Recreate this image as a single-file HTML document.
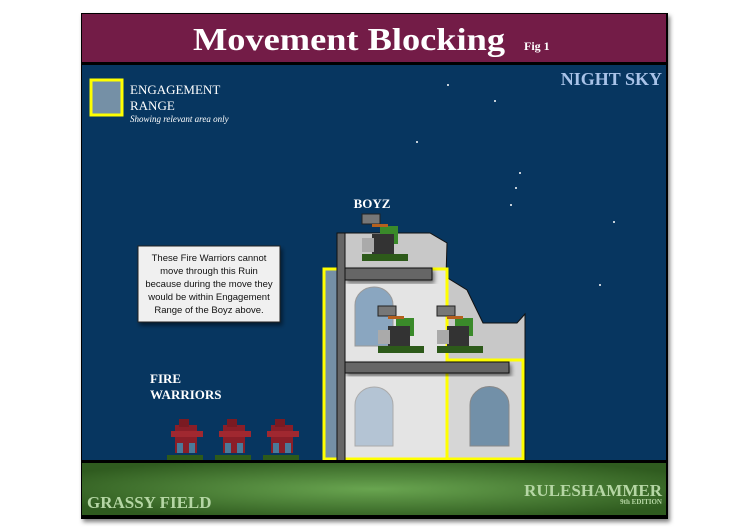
<!DOCTYPE html>
<html><head><style>
html,body{margin:0;padding:0;background:#fff;}
svg{display:block;}
text{font-family:"Liberation Serif",serif;}
</style></head><body>
<svg width="748" height="530" viewBox="0 0 748 530" xmlns="http://www.w3.org/2000/svg">
<defs>
<radialGradient id="g" cx="0.5" cy="0.5" r="0.6">
<stop offset="0" stop-color="#69a550"/><stop offset="1" stop-color="#2f5b1f"/>
</radialGradient>
<filter id="sh" x="-20%" y="-20%" width="150%" height="150%"><feDropShadow dx="2" dy="3" stdDeviation="2" flood-opacity="0.5"/></filter>
<g id="ork">
<rect x="0" y="40" width="46" height="7" fill="#2d5a1a"/>
<rect x="18" y="12" width="18" height="18" fill="#3a8a2a"/>
<rect x="10" y="20" width="22" height="20" fill="#333"/>
<rect x="0" y="0" width="18" height="10" fill="#777" stroke="#222"/>
<rect x="0" y="24" width="12" height="14" fill="#aaa"/>
<rect x="10" y="10" width="16" height="3" fill="#b5601e"/>
</g>
<g id="fw">
<rect x="0" y="38" width="36" height="5" fill="#2d5a1a"/>
<rect x="8" y="8" width="22" height="28" fill="#8a1e28"/>
<rect x="4" y="14" width="32" height="6" fill="#a02830"/>
<rect x="12" y="2" width="10" height="8" fill="#7a1a22"/>
<rect x="10" y="26" width="6" height="10" fill="#4a7a9a"/>
<rect x="22" y="26" width="6" height="10" fill="#4a7a9a"/>
</g>
</defs>
<rect x="81" y="13" width="587" height="506" fill="#000" filter="url(#sh)"/>
<rect x="82" y="14" width="584" height="48" fill="#731c47"/>
<rect x="82" y="65" width="584" height="395" fill="#073660"/>
<rect x="82" y="463" width="584" height="52" fill="url(#g)"/>
<text x="193" y="50" font-size="32" font-weight="bold" fill="#fff" textLength="312" lengthAdjust="spacingAndGlyphs">Movement Blocking</text>
<text x="524" y="50" font-size="12" font-weight="bold" fill="#fff">Fig 1</text>
<text x="662" y="85" font-size="18" font-weight="bold" fill="#a9c3e8" text-anchor="end">NIGHT SKY</text>
<rect x="91" y="80" width="31" height="35" fill="#7590a6" stroke="#ffff00" stroke-width="3"/>
<text x="130" y="94" font-size="13" fill="#fff">ENGAGEMENT</text>
<text x="130" y="110" font-size="13" fill="#fff">RANGE</text>
<text x="130" y="122" font-size="9" font-style="italic" fill="#fff">Showing relevant area only</text>
<g fill="#fff">
<circle cx="448" cy="85" r="1"/><circle cx="495" cy="101" r="1"/><circle cx="417" cy="142" r="1"/>
<circle cx="520" cy="173" r="1"/><circle cx="516" cy="188" r="1"/><circle cx="511" cy="205" r="1"/>
<circle cx="614" cy="222" r="1"/><circle cx="600" cy="285" r="1"/>
</g>
<text x="372" y="208" font-size="13" font-weight="bold" fill="#fff" text-anchor="middle">BOYZ</text>
<text x="150" y="383" font-size="13" font-weight="bold" fill="#fff">FIRE</text>
<text x="150" y="399" font-size="13" font-weight="bold" fill="#fff">WARRIORS</text>
<rect x="138" y="246" width="142" height="76" fill="#f0f0f0" stroke="#222" filter="url(#sh)"/>
<g font-size="9.5" fill="#111" text-anchor="middle">
<text x="209" y="261" style="font-family:'Liberation Sans',sans-serif">These Fire Warriors cannot</text>
<text x="209" y="274" style="font-family:'Liberation Sans',sans-serif">move through this Ruin</text>
<text x="209" y="287" style="font-family:'Liberation Sans',sans-serif">because during the move they</text>
<text x="209" y="300" style="font-family:'Liberation Sans',sans-serif">would be within Engagement</text>
<text x="209" y="313" style="font-family:'Liberation Sans',sans-serif">Range of the Boyz above.</text>
</g>
<polygon points="345,233 430,233 447,243 446,277 467,290 483,323 517,323 525,314 525,460 345,460" fill="#c8c8c8" stroke="#111"/>
<rect x="323" y="268" width="124" height="192" fill="#e4e4e4"/>
<rect x="447" y="360" width="76" height="100" fill="#d6d6d6"/>
<rect x="323" y="268" width="14" height="192" fill="#7590a6"/>
<path d="M355,346 V305 A19,18 0 0 1 393,305 V346 Z" fill="#8aa6c0" stroke="#999"/>
<path d="M355,446 V405 A19,18 0 0 1 393,405 V446 Z" fill="#b4c4d4" stroke="#aaa"/>
<path d="M470,446 V405 A19,18 0 0 1 509,405 V446 Z" fill="#7290a8" stroke="#888"/>
<rect x="324" y="269" width="123" height="190" fill="none" stroke="#ffff00" stroke-width="3"/>
<rect x="447" y="360" width="76" height="99" fill="none" stroke="#ffff00" stroke-width="3"/>
<rect x="345" y="268" width="87" height="12" fill="#666" stroke="#111" filter="url(#sh)"/>
<rect x="345" y="362" width="164" height="11" fill="#666" stroke="#111" filter="url(#sh)"/>
<rect x="337" y="233" width="8" height="228" fill="#666" stroke="#111"/>
<use href="#ork" x="362" y="214"/>
<use href="#ork" x="378" y="306"/>
<use href="#ork" x="437" y="306"/>
<use href="#fw" x="167" y="417"/>
<use href="#fw" x="215" y="417"/>
<use href="#fw" x="263" y="417"/>
<rect x="82" y="460" width="584" height="2" fill="#000"/>
<text x="87" y="508" font-size="17" font-weight="bold" fill="#b5d6a4">GRASSY FIELD</text>
<text x="662" y="496" font-size="17" font-weight="bold" fill="#b5d6a4" text-anchor="end">RULESHAMMER</text>
<text x="662" y="504" font-size="7" font-weight="bold" fill="#b5d6a4" text-anchor="end">9th EDITION</text>
</svg>
</body></html>
